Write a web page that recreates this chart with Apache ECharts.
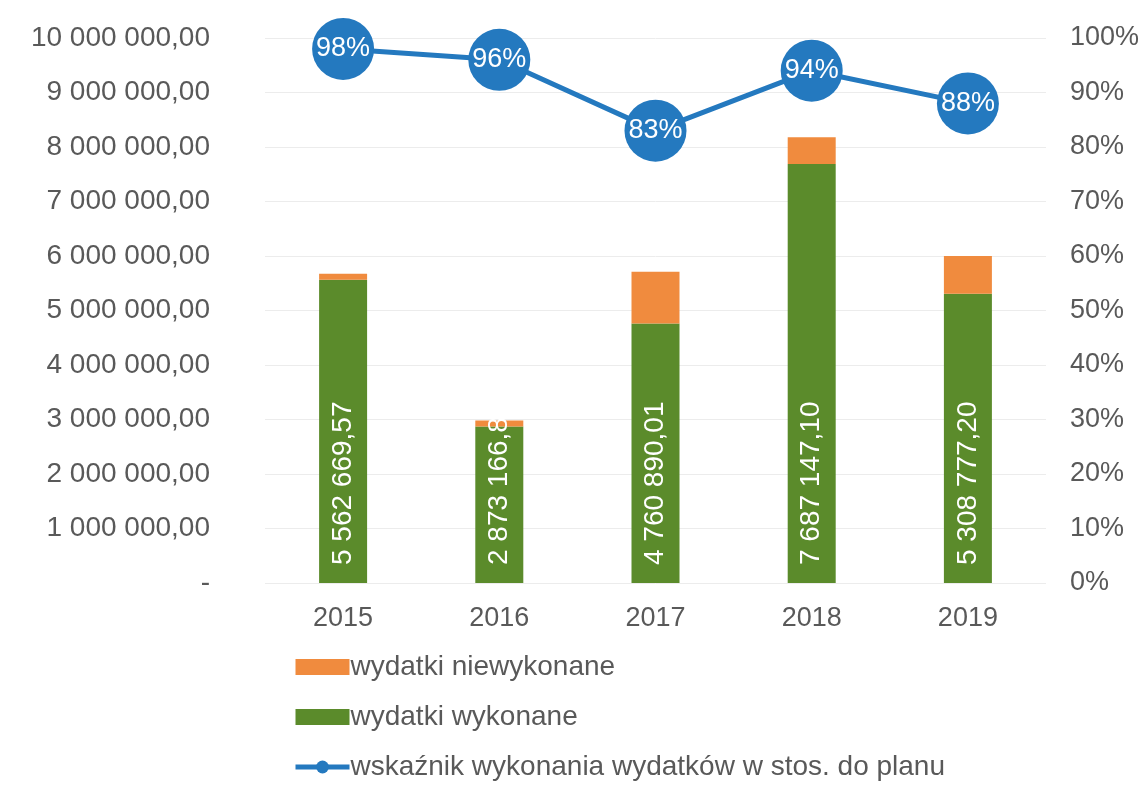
<!DOCTYPE html>
<html>
<head>
<meta charset="utf-8">
<script src="https://cdn.jsdelivr.net/npm/echarts@6/dist/echarts.min.js"></script>
<style>
  html, body { margin: 0; padding: 0; background: #fff; }
  #main { width: 1145px; height: 797px; }
</style>
</head>
<body>
<div id="main"></div>
<script>
var years = ['2015', '2016', '2017', '2018', '2019'];
var wykonane = [5562669.57, 2873166.85, 4760890.01, 7687147.10, 5308777.20];
var niewykonane = [110000, 110000, 950000, 490000, 690000];
var wskaznik = [98, 96, 83, 94, 88];

var txt = '#595959';
var font = '"Liberation Sans", Arial, sans-serif';

function pln(v) {
  if (v === 0) return '-';
  var parts = v.toFixed(2).split('.');
  return parts[0].replace(/\B(?=(\d{3})+(?!\d))/g, ' ') + ',' + parts[1];
}

var chart = echarts.init(document.getElementById('main'));
chart.setOption({
  animation: false,
  textStyle: { fontFamily: font },
  grid: { left: 265, right: 99, top: 38, bottom: 214 },
  legend: {
    orient: 'vertical',
    left: 288,
    top: 646,
    itemWidth: 54,
    itemHeight: 16,
    itemGap: 18,
    data: [
      { name: 'wydatki niewykonane', icon: 'rect' },
      { name: 'wydatki wykonane', icon: 'rect' },
      { name: 'wskaźnik wykonania wydatków w stos. do planu', lineStyle: { width: 5 } }
    ],
    textStyle: { color: txt, fontSize: 28, lineHeight: 32, fontFamily: font, padding: [0, 0, 0, -4] }
  },
  xAxis: {
    type: 'category',
    data: years,
    axisLine: { show: false },
    axisTick: { show: false },
    axisLabel: { color: txt, fontSize: 27, margin: 22 }
  },
  yAxis: [{
    type: 'value',
    min: 0,
    max: 10000000,
    interval: 1000000,
    axisLine: { show: false },
    axisTick: { show: false },
    splitLine: { lineStyle: { color: '#ececec', width: 1 } },
    axisLabel: { color: txt, fontSize: 28, margin: 55, formatter: pln }
  }, {
    type: 'value',
    min: 0,
    max: 100,
    interval: 10,
    axisLine: { show: false },
    axisTick: { show: false },
    splitLine: { show: false },
    axisLabel: { color: txt, fontSize: 27, margin: 24, formatter: '{value}%' }
  }],
  series: [{
    name: 'wydatki wykonane',
    type: 'bar',
    stack: 'w',
    barWidth: 48,
    data: wykonane,
    itemStyle: { color: '#5b8b2b' },
    label: {
      show: true,
      position: 'insideBottom',
      distance: 18,
      rotate: 90,
      align: 'left',
      verticalAlign: 'middle',
      color: '#fff',
      fontSize: 28,
      formatter: function (p) { return pln(p.value); }
    }
  }, {
    name: 'wydatki niewykonane',
    type: 'bar',
    stack: 'w',
    barWidth: 48,
    data: niewykonane,
    itemStyle: { color: '#f08b3e' }
  }, {
    name: 'wskaźnik wykonania wydatków w stos. do planu',
    type: 'line',
    yAxisIndex: 1,
    data: wskaznik,
    symbol: 'circle',
    symbolSize: 62,
    lineStyle: { color: '#2479bf', width: 5 },
    itemStyle: { color: '#2479bf' },
    label: {
      show: true,
      position: 'inside',
      color: '#fff',
      fontSize: 27,
      formatter: '{c}%'
    },
    z: 5
  }]
});
</script>
</body>
</html>
